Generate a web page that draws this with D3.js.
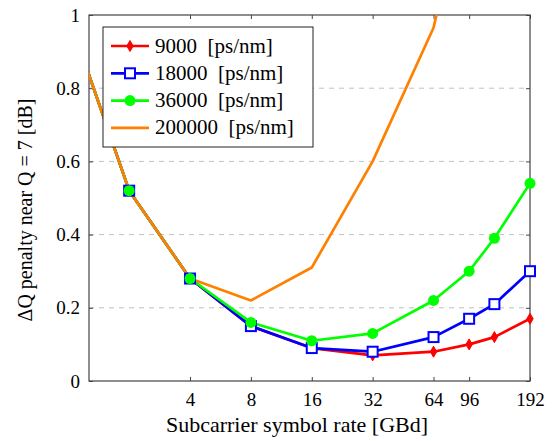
<!DOCTYPE html>
<html>
<head>
<meta charset="utf-8">
<script src="https://cdn.jsdelivr.net/npm/d3@7"></script>
<style>
body{margin:0;background:#fff}
</style>
</head>
<body>
<svg id="chart" width="557" height="441"></svg>
<script>
// symbol rates [GBd]
var rates = [1, 2, 4, 8, 16, 32, 64, 96, 128, 192]
var xTicks = [4, 8, 16, 32, 64, 96, 192]
var yTicks = [0, 0.2, 0.4, 0.6, 0.8, 1]

var cd9000   = [1.0, 0.52, 0.28, 0.15, 0.09, 0.07, 0.08, 0.10, 0.12, 0.17]
var cd18000  = [1.0, 0.52, 0.28, 0.15, 0.09, 0.08, 0.12, 0.17, 0.21, 0.30]
var cd36000  = [1.0, 0.52, 0.28, 0.16, 0.11, 0.13, 0.22, 0.30, 0.39, 0.54]
var cd200000 = [1.0, 0.52, 0.28, 0.22, 0.31, 0.60, 0.965, 1.39]

var names = ["9000 [ps/nm]", "18000 [ps/nm]", "36000 [ps/nm]", "200000 [ps/nm]"]
var colors = ["#ff0000", "#0000ff", "#00ff00", "#ff8000"]
var markers = ["diamond", "square", "circle", "none"]

var series = [cd9000, cd18000, cd36000, cd200000].map(function(vals, i){
    return {name: names[i], color: colors[i], marker: markers[i],
        pts: vals.map(function(v, j){ return {x: rates[j], y: v} })}
})

var W = 557, H = 441
var margin = {left: 89, right: 27, top: 15, bottom: 60}
var svg = d3.select("#chart")
var pw = W - margin.left - margin.right, ph = H - margin.top - margin.bottom
var serif = "Liberation Serif"

var xScale = d3.scaleLog().base(2).domain([1.266, 192]).range([0, pw])
var yScale = d3.scaleLinear().domain([0, 1]).range([ph, 0])

var g = svg.append("g").attr("transform", "translate(" + margin.left + "," + margin.top + ")")

svg.append("clipPath").attr("id", "clip")
    .append("rect").attr("width", pw).attr("height", ph)

// grid
g.selectAll(".grid").data(yTicks.filter(function(d){ return d > 0 && d < 1 }))
    .enter().append("line")
    .attr("x1", 0).attr("x2", pw)
    .attr("y1", function(d){ return yScale(d) }).attr("y2", function(d){ return yScale(d) })
    .attr("stroke", "#c0c0c0").attr("stroke-width", 1).attr("stroke-dasharray", "5,5")

// axes (ticks inward)
var xAxis = d3.axisBottom(xScale).tickValues(xTicks).tickFormat(d3.format("d")).tickSizeInner(-4).tickSizeOuter(0).tickPadding(12)
var xAxisTop = d3.axisTop(xScale).tickValues(xTicks).tickFormat("").tickSizeInner(-4).tickSizeOuter(0)
var yAxis = d3.axisLeft(yScale).tickValues(yTicks).tickFormat(function(d){ return d == 0 || d == 1 ? d : d3.format(".1f")(d) }).tickSizeInner(-4).tickSizeOuter(0).tickPadding(9)
var yAxisRight = d3.axisRight(yScale).tickValues(yTicks).tickFormat("").tickSizeInner(-4).tickSizeOuter(0)

g.append("g").attr("transform", "translate(0," + ph + ")").call(xAxis)
g.append("g").call(xAxisTop)
g.append("g").call(yAxis)
g.append("g").attr("transform", "translate(" + pw + ",0)").call(yAxisRight)
g.selectAll(".domain").remove()
g.selectAll("g").attr("font-family", serif).attr("font-size", 19)
g.selectAll(".tick line").attr("stroke", "#444")

g.append("rect").attr("width", pw).attr("height", ph)
    .attr("fill", "none").attr("stroke", "#444").attr("stroke-width", 1.2)

// lines
var line = d3.line().x(function(d){ return xScale(d.x) }).y(function(d){ return yScale(d.y) })
var plot = g.append("g").attr("clip-path", "url(#clip)")
series.forEach(function(s){
    plot.append("path").datum(s.pts)
        .attr("d", line).attr("fill", "none")
        .attr("stroke", s.color).attr("stroke-width", 2.7)
        .attr("stroke-linejoin", "round")
})

function drawMarker(sel, type, color, x, y){
    if(type == "diamond"){
        sel.append("path").attr("d", "M" + x + "," + (y - 5.5) + "L" + (x + 3.2) + "," + y + "L" + x + "," + (y + 5.5) + "L" + (x - 3.2) + "," + y + "Z")
            .attr("fill", color).attr("stroke", color).attr("stroke-width", 1)
    } else if(type == "square"){
        sel.append("rect").attr("x", x - 5).attr("y", y - 5).attr("width", 10).attr("height", 10)
            .attr("fill", "#fff").attr("stroke", color).attr("stroke-width", 2)
    } else if(type == "circle"){
        sel.append("circle").attr("cx", x).attr("cy", y).attr("r", 5.5).attr("fill", color)
    }
}

var marks = g.append("g")
series.forEach(function(s){
    s.pts.forEach(function(p){
        if(p.x < xScale.domain()[0] || p.y > 1) return
        drawMarker(marks, s.marker, s.color, xScale(p.x), yScale(p.y))
    })
})

// legend
var leg = svg.append("g").attr("transform", "translate(103,27)")
leg.append("rect").attr("width", 210).attr("height", 120)
    .attr("fill", "#fff").attr("stroke", "#222").attr("stroke-width", 1)
series.forEach(function(s, i){
    var y = 19 + i * 27.3
    leg.append("line").attr("x1", 8).attr("x2", 46).attr("y1", y).attr("y2", y)
        .attr("stroke", s.color).attr("stroke-width", 2.7)
    drawMarker(leg, s.marker, s.color, 27, y)
    leg.append("text").attr("x", 52).attr("y", y + 6.5)
        .attr("font-family", serif).attr("font-size", 21)
        .text(s.name.replace(" ", "\u2002"))
})

// axis titles
svg.append("text").attr("x", 297).attr("y", 432)
    .attr("text-anchor", "middle").attr("font-family", serif).attr("font-size", 22)
    .text("Subcarrier symbol rate [GBd]")
svg.append("text").attr("transform", "translate(32," + (margin.top + ph / 2 + 12) + ") rotate(-90)")
    .attr("text-anchor", "middle").attr("font-family", serif).attr("font-size", 20)
    .text("\u0394Q penalty near Q = 7 [dB]")
</script>
</body>
</html>
